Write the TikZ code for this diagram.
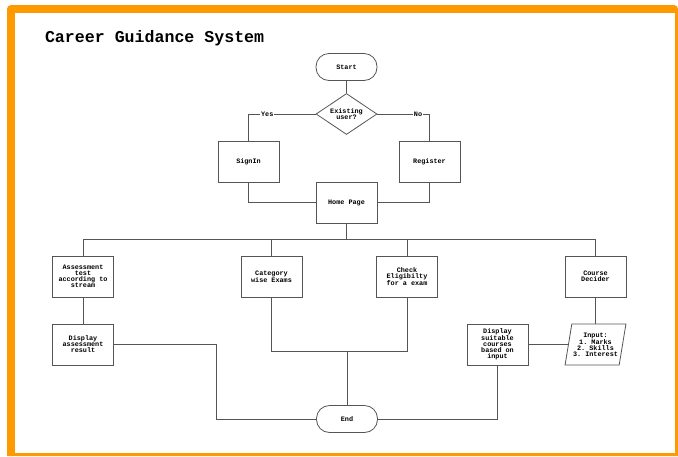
\documentclass[tikz,border=0pt]{standalone}
\usepackage{fontspec}
\setmonofont{Liberation Mono}
\usetikzlibrary{shapes.geometric,positioning}
\definecolor{frameorange}{RGB}{255,153,0}
\definecolor{linegray}{RGB}{85,85,85}
\begin{document}
\begin{tikzpicture}[x=1pt,y=-1pt,
	wire/.style={draw=linegray,line width=.8pt},
	box/.style={draw=linegray,line width=.8pt,fill=white,minimum width=61pt,minimum height=41pt,inner sep=1pt,align=center,font=\ttfamily\bfseries\fontsize{6.8}{6}\selectfont},
	term/.style={box,rounded corners=13pt,minimum height=27pt},
	decide/.style={box,diamond,aspect=1.5,inner sep=0pt},
	inbox/.style={box,trapezium,trapezium left angle=75,trapezium right angle=105,trapezium stretches=true,inner sep=0pt},
	tag/.style={fill=white,inner sep=1pt,font=\ttfamily\bfseries\fontsize{6.8}{6}\selectfont}]
\useasboundingbox (0,0) rectangle (678,456);
% frame
\fill[frameorange] (678,456) -- (7,456) {[rounded corners=4pt] -- (7,5) -- (678,5)} -- cycle;
\fill[white] (15,13) rectangle (675,453);
\node[anchor=base west,font=\ttfamily\bfseries\fontsize{16.6}{18}\selectfont] (title) at (41.5,42) {Career Guidance System};
% top part
\node[term] (start) at (346.5,67) {Start};
\node[decide] (exist) at (346.5,114) {Existing\\user?};
\node[box] (signin) at (248.5,162) {SignIn};
\node[box] (register) at (429.5,162) {Register};
\node[box] (home) at (346.5,202.5) {Home Page};
% modules
\node[box] (assess) at (83,276.5) {Assessment\\test\\according to\\stream};
\node[box] (category) at (271.5,276.5) {Category\\wise Exams};
\node[box] (check) at (407,276.5) {Check\\Eligibilty\\for a exam};
\node[box] (course) at (595.5,276.5) {Course\\Decider};
\node[box] (dispassess) at (83,344.5) {Display\\assessment\\result};
\node[box] (dispcourse) at (497.5,344.5) {Display\\suitable\\courses\\based on\\input};
\node[inbox] (input) at (595.5,344.5) {Input:\\1. Marks\\2. Skills\\3. Interest};
\node[term] (end) at (347,419) {End};
\coordinate (bus) at (346.5,239);
\coordinate (join) at (347,351);
% connectors
\draw[wire] (start) -- (exist);
\draw[wire] (exist.west) -| node[tag,pos=.36]{Yes} (signin);
\draw[wire] (exist.east) -| node[tag,pos=.39]{No} (register);
\draw[wire] (signin) |- (home);
\draw[wire] (register) |- (home);
\draw[wire] (home) -- (bus);
\foreach \n in {assess,category,check,course}
{
	\draw[wire] (bus) -| (\n);
}
\draw[wire] (assess) -- (dispassess);
\draw[wire] (dispassess.east) -- ++(102,0) |- (end);
\draw[wire] (category) |- (join);
\draw[wire] (check) |- (join);
\draw[wire] (join) -- (end);
\draw[wire] (course) -- (input);
\draw[wire] (input) -- (dispcourse);
\draw[wire] (dispcourse) |- (end);
\end{tikzpicture}
\end{document}
